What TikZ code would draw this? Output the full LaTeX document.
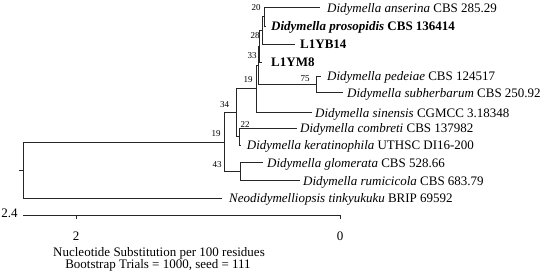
\documentclass[tikz,border=0pt]{standalone}
\usepackage{fontspec}
\setmainfont{Liberation Serif}
\begin{document}
\begin{tikzpicture}[x=1pt,y=-1pt,
  branch/.style={draw=black!85, line width=0.8pt},
  leaf/.style={anchor=base west, inner sep=0pt, font=\fontsize{13}{15}\selectfont},
  boldleaf/.style={leaf, font=\fontsize{13}{15}\selectfont\bfseries},
  boot/.style={inner sep=0pt, font=\fontsize{9}{10}\selectfont},
  scaletext/.style={inner sep=0pt, font=\fontsize{13}{15}\selectfont}]
\useasboundingbox (0,0) rectangle (550,279);

% internal nodes
\coordinate (rootstem) at (19,170);
\coordinate (root) at (23,170);
\coordinate (n19c) at (224,142.2);
\coordinate (n34) at (236,112.7);
\coordinate (n19b) at (256.7,88.7);
\coordinate (n19a) at (258.2,65.2);
\coordinate (n33) at (259.8,46);
\coordinate (n28) at (262.5,30.5);
\coordinate (n20) at (264.3,16.8);
\coordinate (n75) at (316,84.2);
\coordinate (n22) at (239,136.7);
\coordinate (n43) at (240.7,171.7);

% tips
\coordinate (tAns) at (320,7.5);
\coordinate (tPro) at (265.5,26);
\coordinate (tYB) at (295,44);
\coordinate (tYM) at (261.5,62);
\coordinate (tPed) at (321,76);
\coordinate (tSub) at (343,92.5);
\coordinate (tSin) at (312,112.5);
\coordinate (tCom) at (297,128.3);
\coordinate (tKer) at (241,145);
\coordinate (tGlo) at (263,162.5);
\coordinate (tRum) at (300,180.8);
\coordinate (tNeo) at (222,198);

% labels
\node[leaf] (ans) at (327,12) {\textit{Didymella anserina} CBS 285.29};
\node[boldleaf] (pro) at (271,30.5) {\textit{Didymella prosopidis} CBS 136414};
\node[boldleaf] (yb) at (300,48.5) {L1YB14};
\node[boldleaf] (ym) at (271,66.5) {L1YM8};
\node[leaf] (ped) at (327,80.5) {\textit{Didymella pedeiae} CBS 124517};
\node[leaf] (sub) at (347,97) {\textit{Didymella subherbarum} CBS 250.92};
\node[leaf] (sin) at (315,117) {\textit{Didymella sinensis} CGMCC 3.18348};
\node[leaf] (com) at (300,132.8) {\textit{Didymella combreti} CBS 137982};
\node[leaf] (ker) at (246.7,149.5) {\textit{Didymella keratinophila} UTHSC DI16-200};
\node[leaf] (glo) at (267,167) {\textit{Didymella glomerata} CBS 528.66};
\node[leaf] (rum) at (303,185.3) {\textit{Didymella rumicicola} CBS 683.79};
\node[leaf] (neo) at (229,202.5) {\textit{Neodidymelliopsis tinkyukuku} BRIP 69592};

% branches
\draw[branch] (rootstem) -- (root);
\draw[branch] (root) |- (n19c);
\draw[branch] (root) |- (tNeo);
\draw[branch] (n19c) |- (n34);
\draw[branch] (n19c) |- (n43);
\draw[branch] (n34) |- (n19b);
\draw[branch] (n34) |- (n22);
\draw[branch] (n22) |- (tCom);
\draw[branch] (n22) |- (tKer);
\draw[branch] (n43) |- (tGlo);
\draw[branch] (n43) |- (tRum);
\draw[branch] (n19b) |- (n19a);
\draw[branch] (n19b) |- (tSin);
\draw[branch] (n19a) |- (n33);
\draw[branch] (n19a) |- (n75);
\draw[branch] (n75) |- (tPed);
\draw[branch] (n75) |- (tSub);
\draw[branch] (n33) |- (n28);
\draw[branch] (n33) |- (tYM);
\draw[branch] (n28) |- (n20);
\draw[branch] (n28) |- (tYB);
\draw[branch] (n20) |- (tAns);
\draw[branch] (n20) |- (tPro);

% bootstrap values
\node[boot] (b20) at (256,8) {20};
\node[boot] (b28) at (255,36) {28};
\node[boot] (b33) at (252,56) {33};
\node[boot] (b19a) at (248,80) {19};
\node[boot] (b75) at (305,79) {75};
\node[boot] (b34) at (224.5,104.5) {34};
\node[boot] (b22) at (245,124.5) {22};
\node[boot] (b19b) at (216,134) {19};
\node[boot] (b43) at (217,164.5) {43};

% scale bar
\coordinate (sL) at (23,215);
\coordinate (s2) at (76,215);
\coordinate (s0) at (340,215);
\coordinate (s2d) at (76,219);
\coordinate (s0d) at (340,219);
\draw[branch] (sL) -- (s0);
\draw[branch] (s2) -- (s2d);
\draw[branch] (s0) -- (s0d);
\node[scaletext] (l24) at (9.5,213) {2.4};
\node[scaletext] (l2) at (76,236) {2};
\node[scaletext] (l0) at (340,236) {0};
\node[scaletext, anchor=base] (cap1) at (159,256.5) {Nucleotide Substitution per 100 residues};
\node[scaletext, anchor=base] (cap2) at (158,268.5) {Bootstrap Trials = 1000, seed = 111};
\end{tikzpicture}
\end{document}
